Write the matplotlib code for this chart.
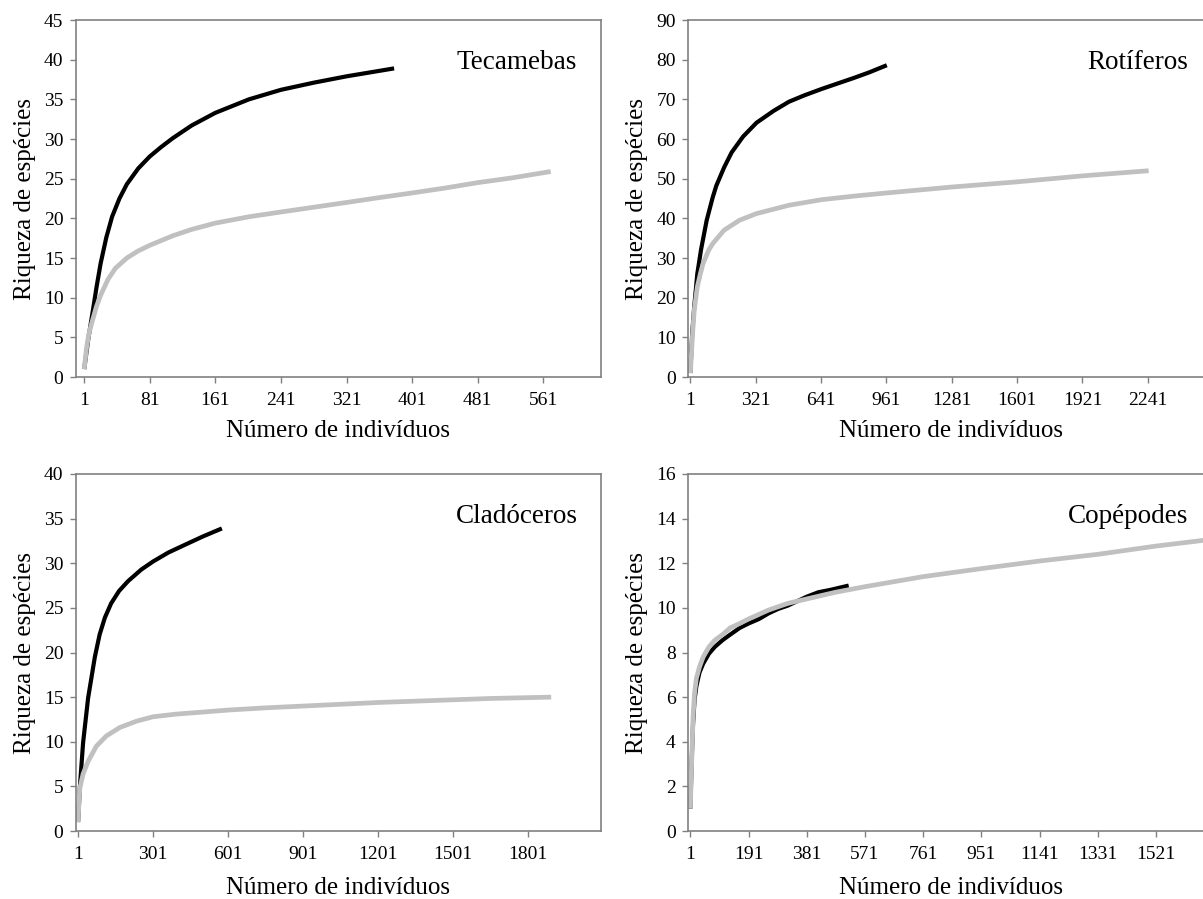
import matplotlib
matplotlib.use("Agg")
import matplotlib.pyplot as plt

plt.rcParams['font.family'] = ['Liberation Serif', 'DejaVu Serif']

# ---------------- data ----------------
# Tecamebas
tec_black_n = [1, 6, 11, 16, 21, 28, 35, 44, 53, 67, 81, 95, 109, 132, 161, 202, 241, 281, 321, 379]
tec_black_s = [1, 4.8, 8.0, 11.3, 14.3, 17.6, 20.2, 22.5, 24.3, 26.3, 27.8, 29.0, 30.1, 31.7, 33.3,
               35.0, 36.2, 37.1, 37.9, 38.9]
tec_gray_n = [1, 4, 7, 11, 16, 21, 30, 39, 53, 67, 81, 109, 132, 161, 202, 241, 281, 321, 360, 401,
              440, 481, 523, 570]
tec_gray_s = [1, 3.8, 5.6, 7.1, 8.9, 10.3, 12.3, 13.7, 15.0, 15.9, 16.6, 17.8, 18.6, 19.4, 20.2, 20.8,
              21.4, 22.0, 22.6, 23.2, 23.8, 24.5, 25.1, 25.9]

# Rotíferos
rot_black_n = [1, 10, 20, 35, 53, 81, 110, 128, 166, 203, 259, 325, 409, 484, 559, 643, 728, 802, 877, 963]
rot_black_s = [1, 10.9, 17.7, 26.0, 32.0, 39.5, 45.2, 48.2, 52.8, 56.6, 60.6, 64.1, 67.1, 69.4, 71.0,
               72.6, 74.1, 75.4, 76.8, 78.6]
rot_gray_n = [1, 12, 20, 35, 50, 63, 91, 110, 166, 241, 325, 484, 643, 802, 963, 1283, 1602, 1920, 2245]
rot_gray_s = [1, 10.9, 16.8, 22.7, 26.0, 28.6, 32.0, 33.6, 37.0, 39.5, 41.2, 43.3, 44.7, 45.6, 46.4,
              47.9, 49.2, 50.7, 52.0]

# Cladóceros
cla_black_n = [1, 8, 21, 41, 68, 87, 108, 133, 165, 201, 254, 301, 362, 423, 500, 576]
cla_black_s = [1, 4.9, 9.9, 14.9, 19.5, 22.0, 23.9, 25.5, 26.9, 28.0, 29.3, 30.2, 31.2, 32.0, 33.0, 33.9]
cla_gray_n = [1, 4, 8, 21, 41, 74, 114, 168, 234, 301, 394, 488, 601, 751, 901, 1051, 1201, 1351,
              1501, 1651, 1893]
cla_gray_s = [1, 3.0, 4.8, 6.4, 7.8, 9.5, 10.65, 11.6, 12.3, 12.8, 13.1, 13.3, 13.55, 13.8, 14.0,
              14.2, 14.4, 14.55, 14.7, 14.85, 15.0]

# Copépodes
cop_black_n = [1, 6, 10, 15, 21, 31, 43, 62, 81, 106, 131, 162, 191, 225, 256, 287, 319, 350, 381,
               419, 456, 518]
cop_black_s = [1, 3.3, 4.8, 5.9, 6.5, 7.1, 7.5, 7.95, 8.25, 8.55, 8.8, 9.1, 9.3, 9.5, 9.75, 9.95,
               10.1, 10.3, 10.5, 10.7, 10.8, 11.0]
cop_gray_n = [1, 6, 10, 15, 21, 31, 43, 62, 81, 106, 131, 162, 191, 256, 319, 381, 475, 571, 761,
              951, 1141, 1331, 1521, 1690]
cop_gray_s = [1, 3.3, 5.1, 6.2, 6.85, 7.35, 7.8, 8.25, 8.55, 8.8, 9.1, 9.3, 9.5, 9.9, 10.2, 10.4,
              10.7, 10.95, 11.4, 11.76, 12.1, 12.4, 12.77, 13.05]

titles = ["Tecamebas", "Rotíferos", "Cladóceros", "Copépodes"]
xtick_sets = [
    [1, 81, 161, 241, 321, 401, 481, 561],
    [1, 321, 641, 961, 1281, 1601, 1921, 2241],
    [1, 301, 601, 901, 1201, 1501, 1801],
    [1, 191, 381, 571, 761, 951, 1141, 1331, 1521],
]
ytick_sets = [
    list(range(0, 46, 5)),
    list(range(0, 91, 10)),
    list(range(0, 41, 5)),
    list(range(0, 17, 2)),
]
xlims = [(-9, 631), (-9, 2560), (-7.4, 2091), (-5.5, 1707)]
xlabel = "Número de indivíduos"
ylabel = "Riqueza de espécies"

series = [
    (tec_black_n, tec_black_s, tec_gray_n, tec_gray_s),
    (rot_black_n, rot_black_s, rot_gray_n, rot_gray_s),
    (cla_black_n, cla_black_s, cla_gray_n, cla_gray_s),
    (cop_black_n, cop_black_s, cop_gray_n, cop_gray_s),
]

# ---------------- layout ----------------
W, H = 1203, 899
fig = plt.figure(figsize=(W / 100, H / 100), dpi=100)
boxes = [(76, 20, 600.7, 377), (688.3, 20, 1213, 377),
         (76, 474, 600.7, 831), (688.3, 474, 1213, 831)]
xlab_y = [-0.151, -0.151, -0.160, -0.160]
title_pos = [(0.955, 0.882), (0.952, 0.882), (0.957, 0.880), (0.952, 0.882)]

spine_col = "#808080"
for i, (l, t, r, b) in enumerate(boxes):
    ax = fig.add_axes([l / W, 1 - b / H, (r - l) / W, (b - t) / H])
    bn, bs, gn, gs = series[i]
    ax.plot(bn, bs, color="black", lw=3.0, solid_joinstyle="round", solid_capstyle="butt")
    ax.plot(gn, gs, color="#C0C0C0", lw=3.4, solid_joinstyle="round", solid_capstyle="butt")
    ax.set_xlim(*xlims[i])
    ax.set_ylim(ytick_sets[i][0], ytick_sets[i][-1])
    ax.set_xticks(xtick_sets[i])
    ax.set_yticks(ytick_sets[i])
    ax.tick_params(axis="both", direction="out", length=4, width=1.0, color=spine_col,
                   labelsize=14, labelcolor="black")
    ax.tick_params(axis="x", pad=7)
    ax.tick_params(axis="y", pad=5)
    for s in ax.spines.values():
        s.set_color(spine_col)
        s.set_linewidth(1.2)
    ax.set_xlabel(xlabel, fontsize=18)
    ax.set_ylabel(ylabel, fontsize=18)
    ax.xaxis.set_label_coords(0.5, xlab_y[i])
    ax.xaxis.label.set_va("center")
    ax.yaxis.set_label_coords(-0.097, 0.5)
    ax.yaxis.label.set_va("center")
    ax.text(title_pos[i][0], title_pos[i][1], titles[i], transform=ax.transAxes,
            ha="right", va="center", fontsize=19.5)

fig.savefig("out.png", dpi=100)
